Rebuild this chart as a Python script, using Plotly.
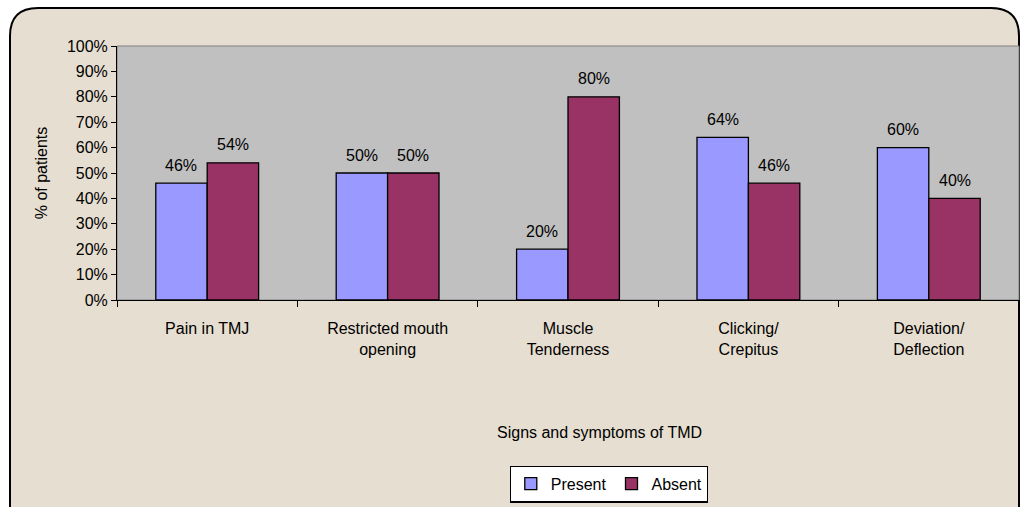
import plotly.graph_objects as go

categories = ["Pain in TMJ", "Restricted mouth<br>opening", "Muscle<br>Tenderness", "Clicking/<br>Crepitus", "Deviation/<br>Deflection"]
present = [46, 50, 20, 64, 60]
absent = [54, 50, 80, 46, 40]
y_ticks = [0, 10, 20, 30, 40, 50, 60, 70, 80, 90, 100]
y_tick_labels = [f"{v}%" for v in y_ticks]

FONT = "Liberation Sans, Arial, sans-serif"

fig = go.Figure()
fig.add_trace(go.Bar(
    name="Present", x=categories, y=present,
    marker=dict(color="#9999FF", line=dict(color="black", width=1.3)),
))
fig.add_trace(go.Bar(
    name="Absent", x=categories, y=absent,
    marker=dict(color="#993366", line=dict(color="black", width=1.3)),
))

W, H = 1020, 507
L, R, T, B = 117, 1019, 46, 300
pw, ph = R - L, B - T
BARGAP = 0.43
bar_px = pw / len(categories) * (1 - BARGAP) / 2


def px(x):
    return (x - L) / pw


def py(y):
    return (B - y) / ph


annotations = []
for series, shift in ((present, -bar_px / 2), (absent, bar_px / 2)):
    for cat, v in zip(categories, series):
        annotations.append(dict(
            x=cat, y=v, xref="x", yref="y", text=f"{v}%", showarrow=False,
            xshift=shift, yshift=18, xanchor="center", yanchor="middle",
            font=dict(size=16, color="black", family=FONT),
        ))

annotations.append(dict(
    text="Signs and symptoms of TMD", x=px(599), y=py(432), xref="paper", yref="paper",
    showarrow=False, xanchor="center", yanchor="middle", font=dict(size=16),
))

# rounded outer frame (pixel coords converted to plot-domain paper coords)
bx0, by0, bx1, by1 = 10, 8, 1019, 520
rad = 28
path = (f"M {px(bx0)} {py(by1)} L {px(bx0)} {py(by0 + rad)} "
        f"Q {px(bx0)} {py(by0)} {px(bx0 + rad)} {py(by0)} "
        f"L {px(bx1 - rad)} {py(by0)} Q {px(bx1)} {py(by0)} {px(bx1)} {py(by0 + rad)} "
        f"L {px(bx1)} {py(by1)} Z")

fig.update_layout(
    width=W, height=H,
    margin=dict(l=L, r=W - R, t=T, b=H - B, autoexpand=False),
    paper_bgcolor="white",
    plot_bgcolor="rgba(0,0,0,0)",
    barmode="group",
    bargap=BARGAP,
    bargroupgap=0,
    font=dict(family=FONT, size=16, color="black"),
    showlegend=True,
    legend=dict(
        orientation="h", x=px(609), xanchor="center",
        y=py(484), yanchor="middle",
        bgcolor="white", bordercolor="black", borderwidth=1.3,
        font=dict(size=16), itemwidth=30, traceorder="normal",
    ),
    shapes=[
        dict(type="path", path=path, xref="paper", yref="paper",
             fillcolor="#E6DED0", line=dict(color="black", width=2), layer="below"),
        dict(type="rect", x0=0, x1=1, y0=0, y1=1, xref="paper", yref="paper",
             fillcolor="#C0C0C0", line=dict(color="#808080", width=1), layer="below"),
    ],
    annotations=annotations,
    xaxis=dict(
        type="category", tickson="boundaries", ticks="outside", ticklen=6,
        tickcolor="black", showline=True, linecolor="black", linewidth=1,
        showgrid=False, tickfont=dict(size=16), ticklabelstandoff=14,
        fixedrange=True,
    ),
    yaxis=dict(
        range=[0, 100], tickvals=y_ticks, ticktext=y_tick_labels,
        ticks="outside", ticklen=5, tickcolor="black",
        showline=True, linecolor="black", linewidth=1,
        showgrid=False, zeroline=False, tickfont=dict(size=16),
        title=dict(text="% of patients", font=dict(size=16), standoff=15),
        fixedrange=True,
    ),
)

fig.write_html(
    "out.html",
    config={"displayModeBar": False},
    post_script="document.body.style.margin='0';document.body.style.overflow='hidden';",
)
